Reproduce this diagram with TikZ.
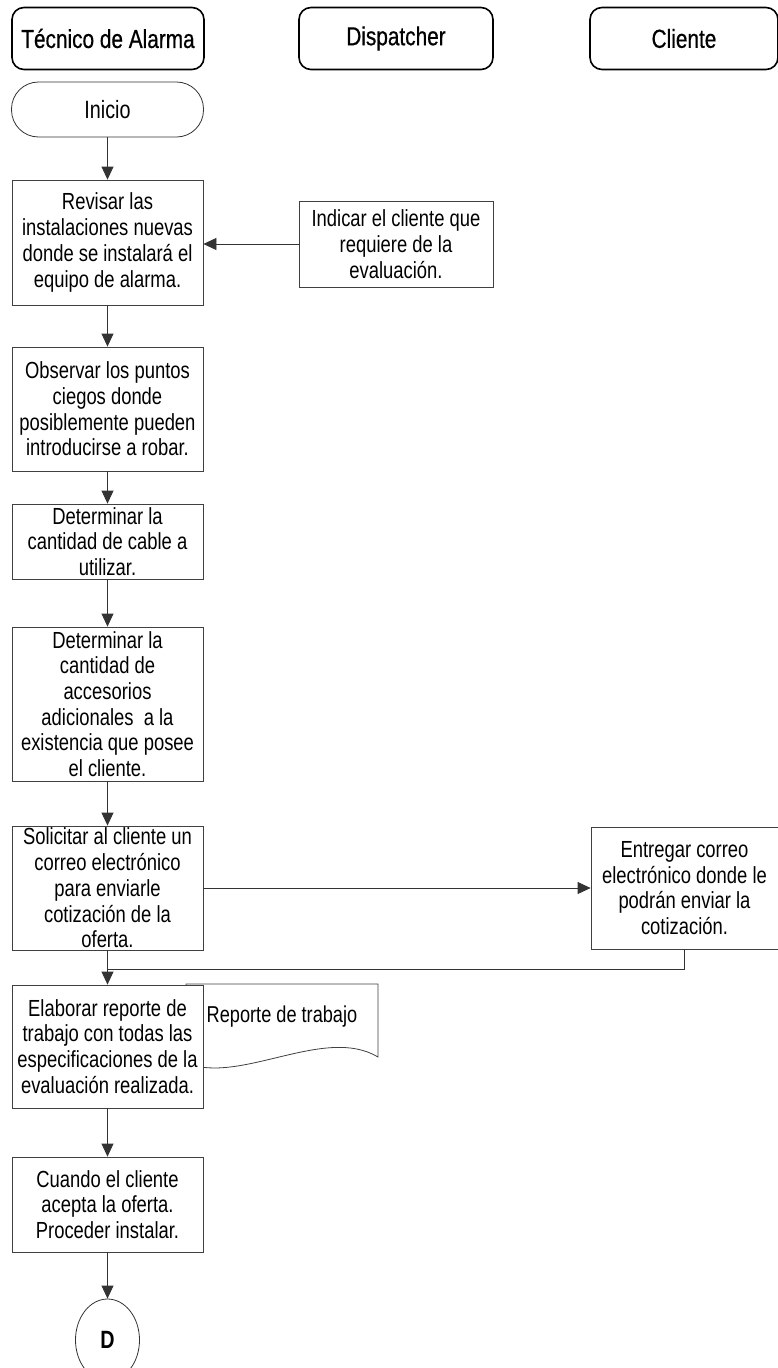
\documentclass[tikz,border=0pt]{standalone}
\usepackage{fontspec}
\setmainfont[FakeStretch=0.79]{Liberation Sans}
\newfontfamily\hdrfont[FakeStretch=0.8,FakeBold=0.6]{Liberation Sans}
\usetikzlibrary{arrows.meta,shapes.geometric}

\begin{document}
\begin{tikzpicture}[x=1pt,y=-1pt,
  lane/.style={draw=black, line width=1.6pt, rounded corners=12pt, fill=white,
    minimum width=#1, minimum height=62pt, inner sep=0pt,
    font=\hdrfont\fontsize{26}{28}\selectfont},
  terminal/.style={draw=black!80, line width=0.8pt, rounded corners=27pt,
    minimum width=192pt, minimum height=55pt, inner sep=0pt,
    font=\fontsize{25}{28}\selectfont},
  proc/.style={draw=black!75, fill=white, line width=0.8pt,
    minimum width=#1, align=center, inner sep=0pt,
    font=\fontsize{23.3}{25.7}\selectfont},
  proc/.default=191pt,
  flow/.style={draw=black!80, line width=0.8pt, -{Triangle[width=12pt,length=13pt]}},
  plain/.style={draw=black!80, line width=0.8pt},
  connector/.style={draw=black!80, line width=0.8pt, ellipse,
    minimum width=64pt, minimum height=82pt, inner sep=0pt,
    font=\bfseries\fontsize{25}{26}\selectfont}
]
\useasboundingbox (0,0) rectangle (778,1368);

% swimlane headers
\node[lane=192pt] (hTec)  at (108,38.5) {Técnico de Alarma};
\node[lane=194pt] (hDisp) at (396,38.5) {Dispatcher};
\node[lane=188pt] (hCli)  at (684,38.5) {Cliente};

% start terminal
\node[terminal] (inicio) at (107.5,109.5) {Inicio};

% process steps
\node[proc, minimum height=125pt] (revisar) at (107.5,242.5)
  {Revisar las\\instalaciones nuevas\\donde se instalará el\\equipo de alarma.};
\node[proc=194pt, minimum height=86pt] (indicar) at (396,244)
  {Indicar el cliente que\\requiere de la\\evaluación.};
\node[proc, minimum height=124pt] (observar) at (107.5,409)
  {Observar los puntos\\ciegos donde\\posiblemente pueden\\introducirse a robar.};
\node[proc, minimum height=75pt] (cable) at (107.5,541.5)
  {Determinar la\\cantidad de cable a\\utilizar.};
\node[proc, minimum height=154pt] (accesorios) at (107.5,704)
  {Determinar la\\cantidad de\\accesorios\\adicionales\ \ a la\\existencia que posee\\el cliente.};
\node[proc, minimum height=124pt] (solicitar) at (107.5,888)
  {Solicitar al cliente un\\correo electrónico\\para enviarle\\cotización de la\\oferta.};
\node[proc=187pt, minimum height=122pt] (entregar) at (684.5,888)
  {Entregar correo\\electrónico donde le\\podrán enviar la\\cotización.};

% work report document, partly behind the next step
\path[draw=black!75, fill=white, line width=0.8pt]
  (186,984) -- (378,984) -- (378,1057)
  .. controls (325,1025) and (240,1085) .. (186,1063) -- cycle;
\node[font=\fontsize{23}{25}\selectfont, inner sep=0pt] (reporte) at (282,1017) {Reporte de trabajo};

\node[proc, minimum height=123pt] (elaborar) at (107.5,1046.5)
  {Elaborar reporte de\\trabajo con todas las\\especificaciones de la\\evaluación realizada.};
\node[proc, minimum height=95pt] (cuando) at (107.5,1204.5)
  {Cuando el cliente\\acepta la oferta.\\Proceder instalar.};

% off-page connector
\node[connector] (conD) at (107.5,1340) {D};

% connectors
\draw[flow] (inicio) -- (revisar);
\draw[flow] (indicar.west) -- (indicar.west -| revisar.east);
\draw[flow] (revisar) -- (observar);
\draw[flow] (observar) -- (cable);
\draw[flow] (cable) -- (accesorios);
\draw[flow] (accesorios) -- (solicitar);
\draw[flow] (solicitar.east) -- (entregar.west);
\coordinate (merge) at (107.5,969);
\draw[plain] (entregar.south) |- (merge);
\draw[flow] (solicitar) -- (elaborar);
\draw[flow] (elaborar) -- (cuando);
\draw[flow] (cuando) -- (conD);
\end{tikzpicture}
\end{document}
